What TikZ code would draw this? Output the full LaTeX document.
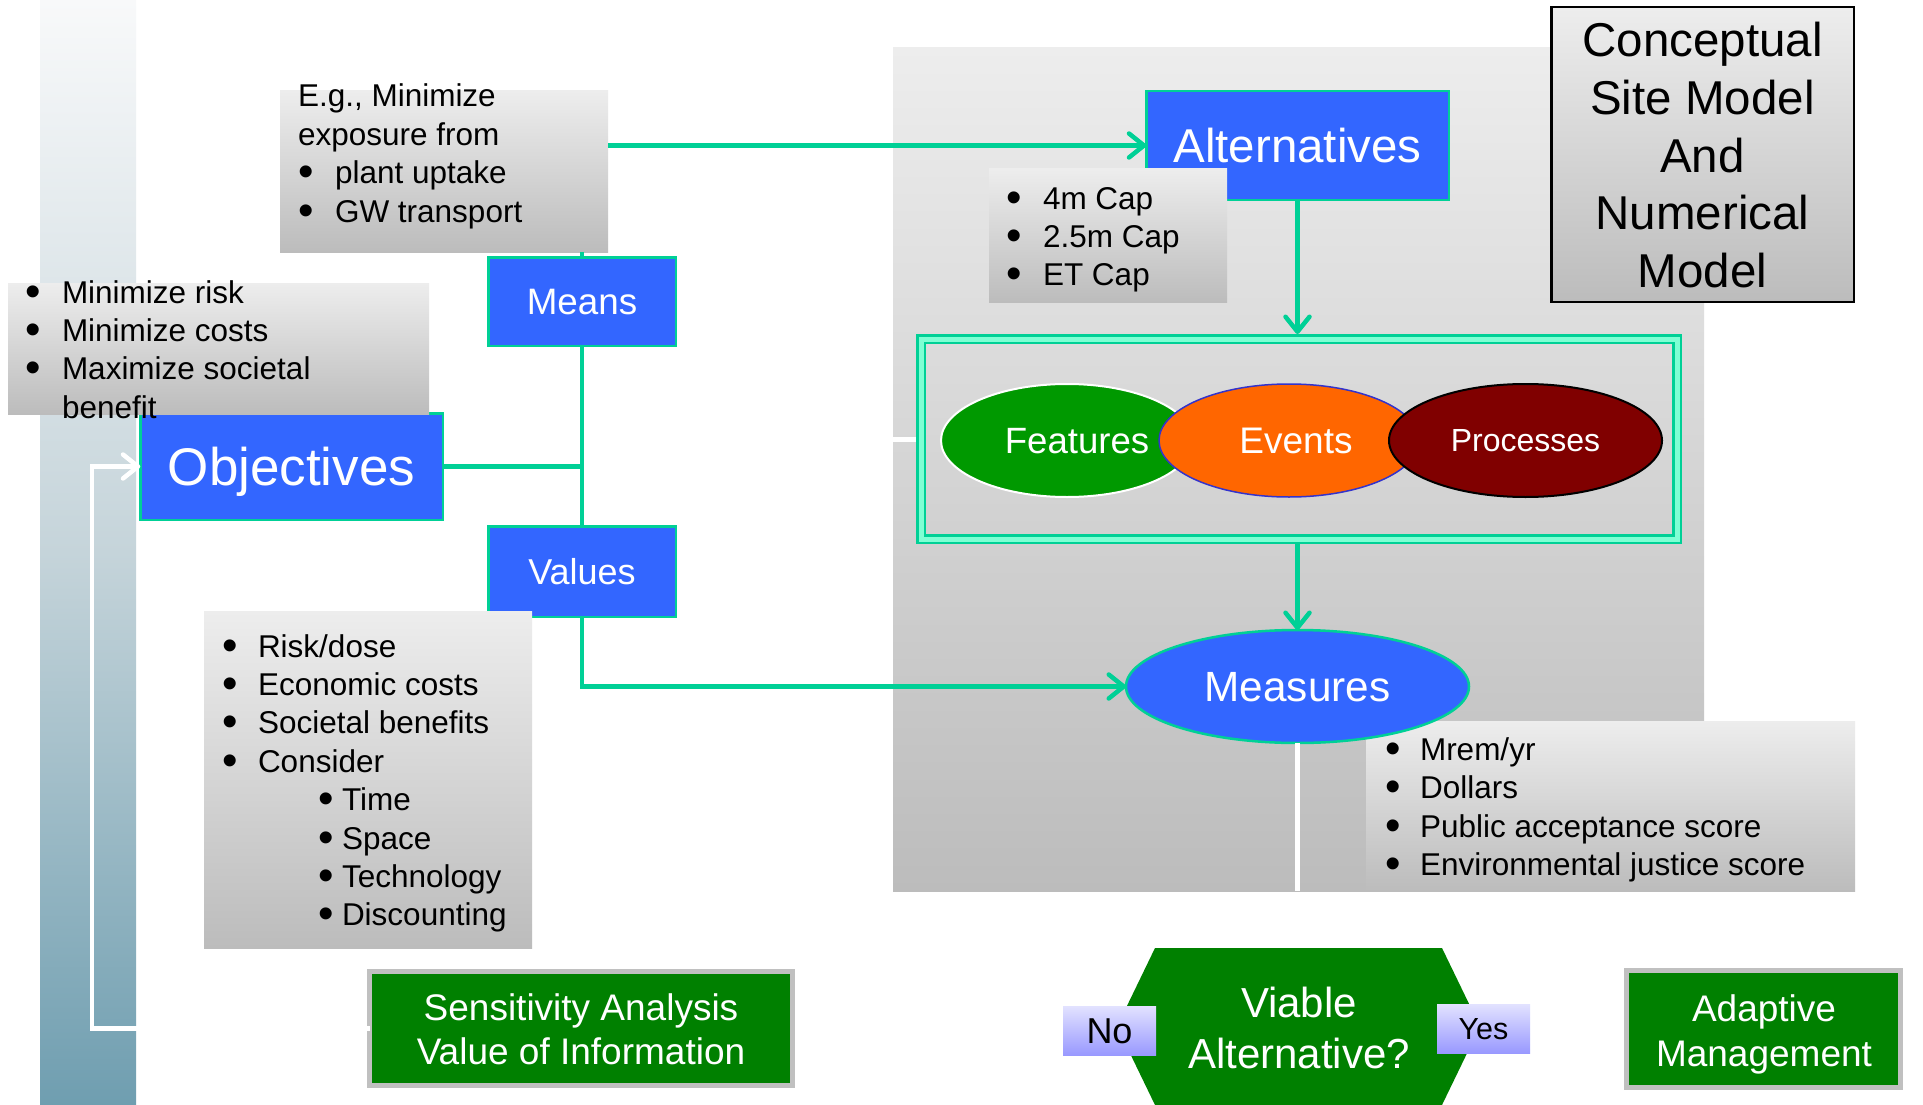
\documentclass[tikz,border=0pt]{standalone}
\usepackage{fontspec}
\usepackage{graphicx}
\setmainfont{Liberation Sans}
\usetikzlibrary{arrows.meta,calc,shapes.geometric}

\definecolor{boxblue}{HTML}{3366FF}
\definecolor{linkgreen}{HTML}{00D096}
\definecolor{mint}{HTML}{7FFFD4}
\definecolor{darkgreen}{HTML}{008000}
\definecolor{featgreen}{HTML}{009900}
\definecolor{evorange}{HTML}{FF6600}
\definecolor{procred}{HTML}{800000}
\definecolor{evblue}{HTML}{3333CC}
\definecolor{graytop}{HTML}{EDEDED}
\definecolor{graybot}{HTML}{BCBCBC}
\definecolor{bartop}{HTML}{F8F9FA}
\definecolor{barmid}{HTML}{C5D4DA}
\definecolor{barbot}{HTML}{6F9EB0}
\definecolor{lavtop}{HTML}{E2E2FF}
\definecolor{lavbot}{HTML}{9999FF}
\definecolor{framegray}{HTML}{C0C0C0}

% font size / leading in pt
\newcommand\fs[2]{\fontsize{#1pt}{#2pt}\selectfont}
% enlarged list bullet and bulleted line (#1 = indent of the text in pt)
\newcommand\dotmark{\raisebox{-3pt}{\scalebox{1.4}{\textbullet}}}
\newcommand\bi[2]{\makebox[#1pt][l]{\dotmark}#2}
% stacked lines, baseline of the node = baseline of the first line
\newcommand\rowsl[1]{\begin{tabular}[t]{@{}l@{}}#1\end{tabular}}
\newcommand\rowsc[1]{\begin{tabular}[t]{@{}c@{}}#1\end{tabular}}

\begin{document}
\begin{tikzpicture}[x=1pt,y=-1pt,
  every node/.style={inner sep=0pt, outer sep=0pt},
  bluebox/.style={rectangle, fill=boxblue, draw=linkgreen, line width=2.5pt, text=white},
  listbox/.style={rectangle, top color=graytop, bottom color=graybot, anchor=north west},
  listtext/.style={anchor=base west, font={\fs{31.5}{38.4}}, text=black},
  greenbox/.style={rectangle, fill=darkgreen, draw=framegray, line width=5pt, text=white},
  answer/.style={rectangle, top color=lavtop, bottom color=lavbot, text=black},
  fep/.style={ellipse, minimum height=113pt, line width=2pt, text=white, text depth=0pt},
  link/.style={draw=linkgreen, line width=4.5pt},
  tip/.style={-{Straight Barb[length=15pt,width=24pt,round]}},
]
\useasboundingbox (0,0) rectangle (1923,1105);
\fill[white] (0,0) rectangle (1923,1105);

% left gradient band
\fill[top color=bartop, bottom color=barbot, middle color=barmid] (40,0) rectangle (136,1105);

% model panel
\node[listbox, minimum width=811pt, minimum height=843.5pt] (panel) at (893,47.5) {};

% alternatives
\node[bluebox, minimum width=302.5pt, minimum height=108.5pt, font={\fs{47.5}{57}},
      text height=34pt, text depth=0pt] (alt) at (1297.5,145.5) {Alternatives};
\node[listbox, minimum width=238pt, minimum height=133pt] (altlist) at (989,169) {};
\node[listtext] (altitems) at (1006,209)
  {\rowsl{\bi{37}{4m Cap}\\ \bi{37}{2.5m Cap}\\ \bi{37}{ET Cap}}};

% conceptual site model
\node[rectangle, top color=graytop, bottom color=graybot, draw=black, line width=2.5pt,
      minimum width=302.5pt, minimum height=294.5pt] (csm) at (1702.5,154.5) {};
\node[anchor=base, font={\fs{47.5}{57.6}}] (csmtext) at (1702.5,57)
  {\rowsc{Conceptual\\ Site Model\\ And\\ Numerical\\ Model}};

% FEP frame and ellipses
\node[rectangle, draw=linkgreen, line width=2.5pt, double=mint, double distance=5pt,
      minimum width=756pt, minimum height=200pt, outer sep=5pt] (fepframe) at (1299,439) {};
\node[fep, fill=featgreen, draw=white, minimum width=252pt, font={\fs{36.6}{44}},
      text height=26.2pt] (features) at (1067,440.5) {\hspace*{20pt}Features};
\node[fep, fill=evorange, draw=evblue, line width=1.5pt, minimum width=260pt, font={\fs{37}{44}},
      text height=26.5pt] (events) at (1289,440.5) {\hspace*{14pt}Events};
\node[fep, fill=procred, draw=black, minimum width=273pt, font={\fs{32}{38}},
      text height=22.9pt] (processes) at (1525.5,440.5) {Processes};

% measures
\node[listbox, minimum width=489pt, minimum height=170pt] (measlist) at (1366,721) {};
\node[listtext] (measitems) at (1385,760.5)
  {\rowsl{\bi{35}{Mrem/yr}\\ \bi{35}{Dollars}\\ \bi{35}{Public acceptance score}\\ \bi{35}{Environmental justice score}}};
\node[ellipse, fill=boxblue, draw=linkgreen, line width=2.5pt, text=white,
      minimum width=343pt, minimum height=113pt, font={\fs{42.3}{50}},
      text height=30.3pt, text depth=0pt] (meas) at (1297.5,686.5) {Measures};
\draw[white, line width=5pt] (meas.south) -- (meas.south |- panel.south);
\draw[white, line width=5pt] (fepframe.west -| panel.west) -- (fepframe.west);

% means side
\node[listbox, minimum width=328pt, minimum height=161pt] (eg) at (280,91) {};
\node[listtext] (egitems) at (298,107)
  {\rowsl{E.g., Minimize\\ exposure from\\ \bi{37}{plant uptake}\\ \bi{37}{GW transport}}};
\node[bluebox, minimum width=187.5pt, minimum height=88.5pt, font={\fs{36.8}{44}},
      text height=26.3pt, text depth=0pt] (means) at (582,301.5) {Means};

% values side
\node[bluebox, minimum width=187.5pt, minimum height=90.5pt, font={\fs{36}{44}},
      text height=25.8pt, text depth=0pt] (values) at (582,571.5) {Values};
\node[listbox, minimum width=328pt, minimum height=337pt] (vallist) at (204,611) {};
\node[listtext] (valitems) at (222,657)
  {\rowsl{\bi{36}{Risk/dose}\\ \bi{36}{Economic costs}\\ \bi{36}{Societal benefits}\\ \bi{36}{Consider}\\
   \hspace*{96pt}\bi{24}{Time}\\ \hspace*{96pt}\bi{24}{Space}\\ \hspace*{96pt}\bi{24}{Technology}\\ \hspace*{96pt}\bi{24}{Discounting}}};

% objectives
\node[bluebox, minimum width=302.5pt, minimum height=106.5pt, font={\fs{53}{60}},
      text height=37.9pt, text depth=0pt] (obj) at (291.5,466.5) {Objectives};
\node[listbox, minimum width=421pt, minimum height=131pt] (objlist) at (8,283) {};
\node[listtext] (objitems) at (25,303)
  {\rowsl{\bi{37}{Minimize risk}\\ \bi{37}{Minimize costs}\\ \bi{37}{Maximize societal}\\ \hspace*{37pt}benefit}};

% bottom row
\node[greenbox, minimum width=423pt, minimum height=114pt] (sens) at (581,1028.5) {};
\node[anchor=base, font={\fs{37}{44}}, text=white] (senstext) at (581,1020)
  {\rowsc{Sensitivity Analysis\\ Value of Information}};

\fill[darkgreen] (1155,948) -- (1442,948) -- (1480,1026.5) -- (1442,1105)
  -- (1155,1105) -- (1117,1026.5) -- cycle;
\node[anchor=base, font={\fs{42}{50.5}}, text=white] (viable) at (1299,1017.5)
  {\rowsc{Viable\\ Alternative?}};
\node[answer, minimum width=93pt, minimum height=49pt, font={\fs{36}{40}},
      text height=25.8pt, text depth=0pt] (no) at (1109.5,1030.5) {No};
\node[answer, minimum width=93pt, minimum height=49pt, font={\fs{30.5}{36}},
      text height=21.8pt, text depth=0pt] (yes) at (1483.5,1028.5) {Yes};

\node[greenbox, minimum width=274pt, minimum height=117pt] (adapt) at (1763.5,1029) {};
\node[anchor=base, font={\fs{37}{45}}, text=white] (adapttext) at (1764,1021)
  {\rowsc{Adaptive\\ Management}};

% connectors
\draw[link, tip] (eg.east |- alt.west) -- (alt.west);
\draw[link] (eg.south -| means.north) -- (means.north);
\draw[link] (means.south) -- (values.north);
\draw[link] (obj.east) -- (obj.east -| means.south);
\draw[link, tip] (values.south) |- (meas.west);
\draw[link, tip] (alt.south) -- (alt.south |- fepframe.north);
\draw[link, tip] (fepframe.south -| meas.north) -- (meas.north);

% feedback loop along the band
\coordinate (fbcol) at (92,700);
\draw[white, line width=4.5pt, tip] (sens.west) -| (fbcol) |- (obj.west);
\end{tikzpicture}
\end{document}
